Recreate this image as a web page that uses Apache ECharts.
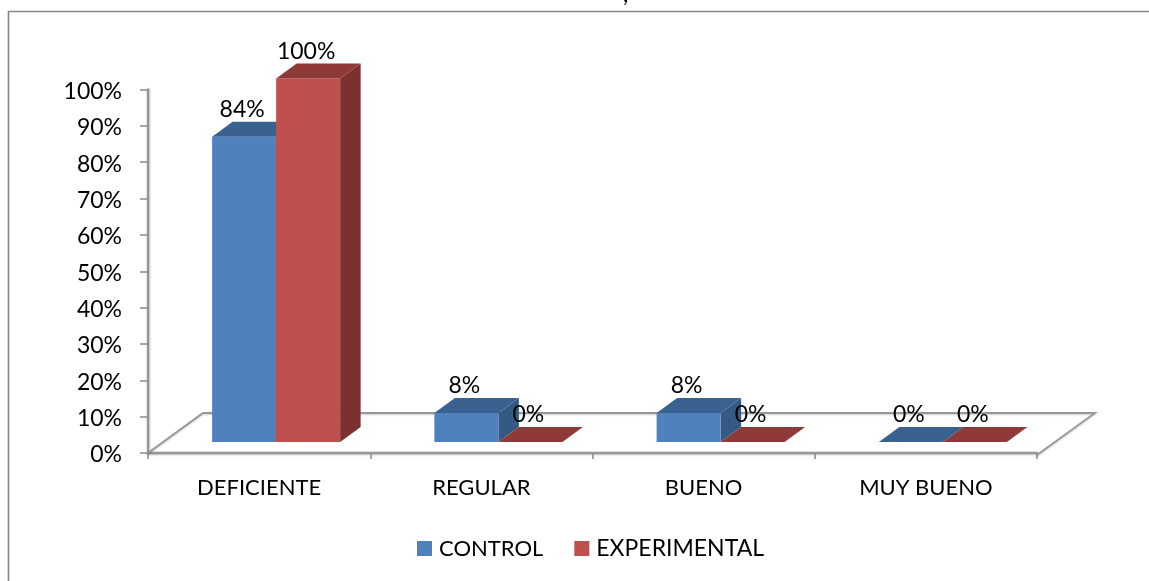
<!DOCTYPE html>
<html>
<head>
<meta charset="utf-8">
<style>html,body{margin:0;padding:0;background:#fff}#chart{width:1149px;height:581px}</style>
<script src="https://cdn.jsdelivr.net/npm/echarts@6/dist/echarts.min.js"></script>
</head>
<body>
<div id="chart"></div>
<script>
// Percentages per rating level for each group
const categories = ['DEFICIENTE', 'REGULAR', 'BUENO', 'MUY BUENO'];
const controlValues = [84, 8, 8, 0];
const experimentalValues = [100, 0, 0, 0];

const FONT = 'Lato';
const GREY = '#979797';
const BAR_SHARE = 0.288;          // bar width as a share of the category band
const FLOOR_DEPTH = [55, -40];    // oblique offset of the floor's back edge
const BAR_INSET = [17, -11];      // bars stand this far back on the floor
const BAR_DEPTH = [20.5, -15];    // oblique thickness of each bar

const palette = {
  control: { front: '#4F81BD', top: '#3A6290', side: '#345A84' },
  experimental: { front: '#C0504D', top: '#8E3A38', side: '#7C3130' }
};

// Draws one oblique column: front face, top face, side face and value text
function barRenderer(shades, slot) {
  return function (params, api) {
    const base = api.coord([api.value(0), 0]);
    const head = api.coord([api.value(0), api.value(1)]);
    const width = api.size([1, 0])[0] * BAR_SHARE;
    const x0 = base[0] + BAR_INSET[0] + (slot - 1) * width;
    const x1 = x0 + width;
    const yBase = base[1] + BAR_INSET[1];
    const yHead = head[1] + BAR_INSET[1];
    const dx = BAR_DEPTH[0], dy = BAR_DEPTH[1];
    const poly = (points, fill) => ({
      type: 'polygon', shape: { points }, style: { fill }
    });
    const children = [];
    if (yBase - yHead > 0) {
      children.push(poly([[x1, yHead], [x1 + dx, yHead + dy], [x1 + dx, yBase + dy], [x1, yBase]], shades.side));
      children.push(poly([[x0, yBase], [x1, yBase], [x1, yHead], [x0, yHead]], shades.front));
    }
    children.push(poly([[x0, yHead], [x1, yHead], [x1 + dx, yHead + dy], [x0 + dx, yHead + dy]], shades.top));
    children.push({
      type: 'text',
      z2: 10,
      style: {
        x: (x0 + x1) / 2 - 2,
        y: yHead - 27,
        text: api.value(1) + '%',
        fill: '#000',
        font: '23px ' + FONT,
        align: 'center',
        verticalAlign: 'middle'
      }
    });
    return { type: 'group', children };
  };
}

// Outline of the chart floor, behind the columns
function floorRenderer(params, api) {
  const origin = api.coord([0, 0]);
  const band = api.size([1, 0])[0];
  const left = origin[0] - band / 2;
  const right = left + band * categories.length;
  const y = origin[1];
  return {
    type: 'polyline',
    shape: {
      points: [
        [left, y],
        [left + FLOOR_DEPTH[0], y + FLOOR_DEPTH[1]],
        [right + FLOOR_DEPTH[0] + 3, y + FLOOR_DEPTH[1]],
        [right, y + 2]
      ]
    },
    style: { stroke: GREY, lineWidth: 1.8, fill: null,
             shadowColor: 'rgba(0,0,0,0.2)', shadowBlur: 2, shadowOffsetY: 1 }
  };
}

const chart = echarts.init(document.getElementById('chart'), null, { renderer: 'canvas' });
chart.setOption({
  animation: false,
  backgroundColor: '#fff',
  grid: { left: 148, right: 112, top: 89.5, bottom: 128 },
  legend: {
    left: 417,
    top: 537,
    padding: 0,
    data: [
      { name: 'CONTROL', textStyle: { fontSize: 22 } },
      { name: 'EXPERIMENTAL', textStyle: { fontSize: 23 } }
    ],
    icon: 'rect',
    itemWidth: 15,
    itemHeight: 15,
    itemGap: 31,
    selectedMode: false,
    textStyle: { fontFamily: FONT, fontSize: 23, color: '#000', padding: [0, 0, 0, 2] }
  },
  xAxis: {
    type: 'category',
    data: categories,
    offset: 2,
    axisLine: { lineStyle: { color: GREY, width: 2.4, shadowColor: 'rgba(0,0,0,0.2)', shadowBlur: 2, shadowOffsetY: 1 } },
    axisTick: { show: true, length: 6, lineStyle: { color: '#8a8a8a', width: 1.5 } },
    axisLabel: { fontFamily: FONT, fontSize: 22, color: '#000', margin: 22 }
  },
  yAxis: {
    type: 'value',
    min: 0,
    max: 100,
    interval: 10,
    axisLine: { show: true, lineStyle: { color: GREY, width: 2.4, shadowColor: 'rgba(0,0,0,0.2)', shadowBlur: 2, shadowOffsetX: 1 } },
    axisTick: { show: true, length: 8, lineStyle: { color: '#8a8a8a', width: 1.5 } },
    splitLine: { show: false },
    axisLabel: { formatter: '{value}%', fontFamily: FONT, fontSize: 23, color: '#000', margin: 26, verticalAlign: 'top', lineHeight: 4 }
  },
  graphic: [
    {
      type: 'polyline',
      silent: true,
      shape: { points: [[8.5, 581], [8.5, 11.5], [1149, 11.5]] },
      style: { stroke: '#868686', lineWidth: 1.6, fill: null }
    },
    {
      type: 'text',
      silent: true,
      style: { x: 623, y: -17, text: ',', font: '23px ' + FONT, fill: '#000' }
    }
  ],
  series: [
    { name: 'floor', type: 'custom', silent: true, z: 1, data: [[0, 0]], renderItem: floorRenderer },
    {
      name: 'CONTROL', type: 'custom', z: 2,
      itemStyle: { color: palette.control.front },
      data: categories.map((c, i) => [i, controlValues[i]]),
      renderItem: barRenderer(palette.control, 0)
    },
    {
      name: 'EXPERIMENTAL', type: 'custom', z: 3,
      itemStyle: { color: palette.experimental.front },
      data: categories.map((c, i) => [i, experimentalValues[i]]),
      renderItem: barRenderer(palette.experimental, 1)
    }
  ]
});
</script>
</body>
</html>
